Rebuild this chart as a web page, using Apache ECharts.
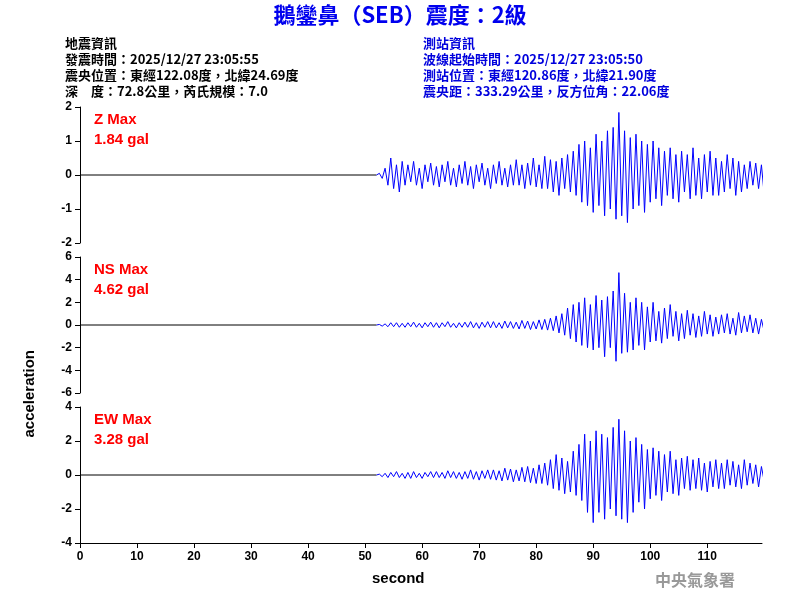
<!DOCTYPE html>
<html><head><meta charset="utf-8">
<script src="https://cdn.jsdelivr.net/npm/echarts@6/dist/echarts.min.js"></script>
<style>html,body{margin:0;padding:0;background:#fff}#c{width:800px;height:600px}</style>
</head><body><div id="c"></div>
<script>
// waveform samples, 0.5 s step starting at t0
var t0 = 52, dt = 0.5;
var zVals = [0.05,-0.1,0.2,-0.3,0.5,-0.4,0.3,-0.5,0.4,-0.3,
0.3,-0.2,0.4,-0.3,0.2,-0.4,0.3,-0.2,0.35,-0.3,
0.25,-0.35,0.3,-0.2,0.4,-0.3,0.2,-0.35,0.3,-0.25,
0.4,-0.3,0.25,-0.4,0.3,-0.2,0.35,-0.3,0.2,-0.4,
0.3,-0.25,0.4,-0.3,0.2,-0.35,0.3,-0.3,0.45,-0.3,
0.3,-0.4,0.35,-0.3,0.5,-0.35,0.3,-0.4,0.55,-0.4,
0.45,-0.5,0.4,-0.6,0.5,-0.4,0.6,-0.5,0.7,-0.6,
0.9,-0.8,1.0,-0.9,0.8,-1.1,1.2,-0.9,1.0,-1.2,
1.3,-1.0,1.4,-1.3,1.84,-1.2,1.3,-1.4,1.1,-1.0,
1.2,-0.9,1.0,-1.1,0.9,-0.8,1.0,-0.7,0.8,-0.9,
0.7,-0.6,0.8,-0.7,0.6,-0.8,0.7,-0.5,0.6,-0.7,
0.8,-0.6,0.5,-0.7,0.6,-0.5,0.7,-0.6,0.5,-0.6,
0.4,-0.5,0.6,-0.4,0.5,-0.6,0.4,-0.5,0.3,-0.4,
0.4,-0.3,0.35,-0.4,0.3,-0.6];
var nsVals = [0.05,-0.1,0.1,-0.15,0.2,-0.15,0.2,-0.2,0.15,-0.2,
0.2,-0.15,0.25,-0.2,0.15,-0.25,0.2,-0.15,0.25,-0.2,
0.2,-0.25,0.2,-0.15,0.3,-0.2,0.15,-0.25,0.2,-0.2,
0.25,-0.2,0.3,-0.25,0.2,-0.3,0.25,-0.2,0.3,-0.25,
0.3,-0.25,0.2,-0.3,0.35,-0.25,0.3,-0.3,0.25,-0.35,
0.4,-0.3,0.35,-0.4,0.3,-0.35,0.45,-0.4,0.5,-0.45,
0.6,-0.5,0.8,-0.7,1.0,-0.9,1.5,-1.2,1.8,-1.5,
2.0,-1.8,2.4,-2.0,1.8,-2.2,2.6,-2.0,2.2,-2.8,
2.5,-2.0,3.0,-3.2,4.62,-2.5,2.8,-2.4,2.0,-2.2,
2.4,-1.8,2.0,-2.2,1.6,-1.5,2.0,-1.4,1.2,-1.6,
1.5,-1.2,1.8,-1.0,1.2,-1.4,1.0,-1.2,1.3,-0.9,
1.0,-1.1,0.8,-1.0,1.2,-0.8,0.9,-1.0,0.7,-0.8,
0.9,-0.7,1.0,-0.8,0.6,-0.9,1.1,-0.7,0.8,-0.6,
0.9,-0.7,0.6,-0.8,0.5,-0.6];
var ewVals = [0.05,-0.1,0.1,-0.15,0.15,-0.1,0.2,-0.15,0.1,-0.2,
0.15,-0.2,0.2,-0.15,0.1,-0.2,0.15,-0.1,0.2,-0.15,
0.2,-0.15,0.15,-0.2,0.25,-0.15,0.2,-0.2,0.15,-0.25,
0.2,-0.2,0.3,-0.25,0.2,-0.3,0.25,-0.2,0.3,-0.25,
0.3,-0.3,0.25,-0.35,0.4,-0.3,0.35,-0.4,0.3,-0.35,
0.45,-0.4,0.5,-0.45,0.4,-0.5,0.6,-0.5,0.7,-0.6,
0.9,-0.8,1.2,-0.9,1.0,-1.1,0.8,-1.0,1.4,-1.2,
1.8,-1.5,2.4,-2.2,2.0,-2.8,2.6,-2.2,2.4,-2.6,
2.2,-2.0,2.8,-2.4,3.28,-2.6,2.6,-2.8,2.0,-2.2,
2.2,-1.6,1.8,-2.0,1.5,-1.4,1.6,-1.2,1.4,-1.5,
1.2,-1.0,1.4,-1.1,0.9,-1.2,1.0,-0.8,1.1,-0.9,
0.9,-0.8,1.0,-0.9,0.7,-1.0,0.8,-0.7,0.9,-0.8,
0.7,-0.8,0.9,-0.6,0.8,-0.7,0.6,-0.8,0.9,-0.6,
0.7,-0.5,0.6,-0.7,0.5,-0.4];
var comps = ['Z','NS','EW'];
var maxVals = ['1.84','4.62','3.28'];
var yRanges = [[-2,2,1],[-6,6,2],[-4,4,2]];

function pts(v){ var a=[[t0,0]]; for(var i=0;i<v.length;i++) a.push([t0+dt*(i+1),v[i]]); return a; }
var wave = [zVals, nsVals, ewVals];
var tops = [107,257,407];
var chart = echarts.init(document.getElementById('c'));
var lbl = {color:'#000',fontWeight:'bold',fontSize:12,fontFamily:'Arial'};
var grids=[],xAxes=[],yAxes=[],series=[],texts=[];
for (var k=0;k<3;k++){
  grids.push({left:80,width:682,top:tops[k],height:136});
  xAxes.push({type:'value',gridIndex:k,min:0,max:119.6,interval:10,show:k==2,
    axisLine:{onZero:false,lineStyle:{color:'#000'}},axisTick:{lineStyle:{color:'#000'}},
    axisLabel:Object.assign({showMaxLabel:false},lbl),splitLine:{show:false}});
  yAxes.push({type:'value',gridIndex:k,min:yRanges[k][0],max:yRanges[k][1],interval:yRanges[k][2],
    axisLine:{show:true,lineStyle:{color:'#000'}},axisTick:{show:true,lineStyle:{color:'#000'}},
    axisLabel:lbl,splitLine:{show:false}});
  series.push({type:'line',xAxisIndex:k,yAxisIndex:k,data:[[0,0],[t0,0]],symbol:'none',
    lineStyle:{color:'#000',width:1},silent:true});
  series.push({type:'line',xAxisIndex:k,yAxisIndex:k,data:pts(wave[k]),symbol:'none',
    lineStyle:{color:'#0000ff',width:1},silent:true});
  texts.push({type:'text',left:94,top:tops[k]+3,style:{text:comps[k]+' Max\n'+maxVals[k]+' gal',fill:'#f00',
    font:'bold 15px Arial',lineHeight:20}});
}
var hf = 'bold 13px "Noto Sans CJK TC"';
texts.push({type:'text',left:65,top:35,style:{text:'地震資訊\n發震時間：2025/12/27 23:05:55\n震央位置：東經122.08度，北緯24.69度\n深　度：72.8公里，芮氏規模：7.0',fill:'#000',font:hf,lineHeight:16}});
texts.push({type:'text',left:423,top:35,style:{text:'測站資訊\n波線起始時間：2025/12/27 23:05:50\n測站位置：東經120.86度，北緯21.90度\n震央距：333.29公里，反方位角：22.06度',fill:'#0000dd',font:hf,lineHeight:16}});
texts.push({type:'text',left:'center',top:4,style:{text:'鵝鑾鼻（SEB）震度：2級',fill:'#0000ee',font:'bold 22px "Noto Sans CJK TC"'}});
texts.push({type:'text',left:372,top:571,style:{text:'second',fill:'#000',font:'bold 15px Arial'}});
texts.push({type:'text',left:22,top:350,rotation:Math.PI/2,style:{text:'acceleration',fill:'#000',font:'bold 15px Arial'}});
texts.push({type:'text',left:655,top:572,style:{text:'中央氣象署',fill:'#999',font:'bold 16px "Noto Sans CJK TC"'}});
chart.setOption({animation:false,grid:grids,xAxis:xAxes,yAxis:yAxes,series:series,graphic:texts});
</script></body></html>
